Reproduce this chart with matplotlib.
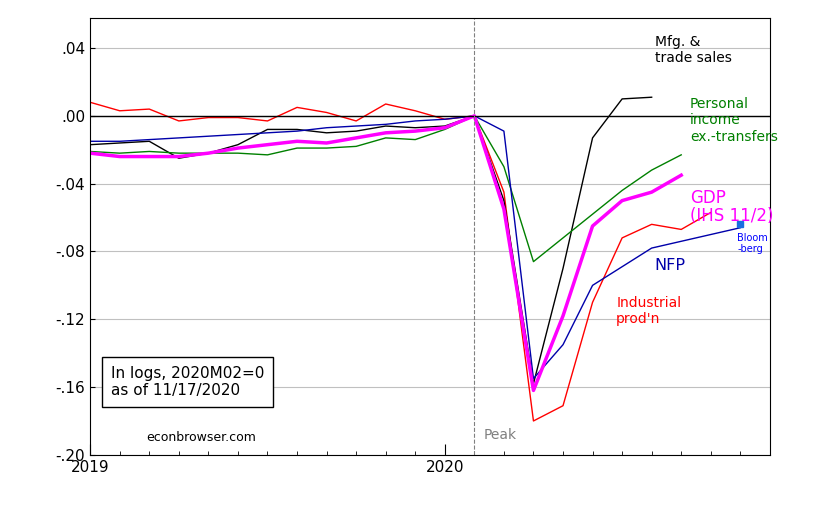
import numpy as np
import matplotlib; matplotlib.use("Agg")
import matplotlib.pyplot as plt

# monthly index: 0 = 2019M01, 13 = 2020M02
ip = [0.008, 0.003, 0.004, -0.003, -0.001, -0.001, -0.003, 0.005, 0.002, -0.003, 0.007, 0.003, -0.002,
      0.0, -0.045, -0.180, -0.171, -0.110, -0.072, -0.064, -0.067, -0.057]
sales = [-0.017, -0.016, -0.015, -0.025, -0.022, -0.017, -0.008, -0.008, -0.010, -0.009, -0.006, -0.007, -0.006,
         0.0, -0.050, -0.158, -0.090, -0.013, 0.010, 0.011]
pinc = [-0.021, -0.022, -0.021, -0.022, -0.022, -0.022, -0.023, -0.019, -0.019, -0.018, -0.013, -0.014, -0.008,
        0.0, -0.030, -0.086, -0.072, -0.058, -0.044, -0.032, -0.023]
nfp = [-0.015, -0.015, -0.014, -0.013, -0.012, -0.011, -0.010, -0.009, -0.007, -0.006, -0.005, -0.003, -0.002,
       0.0, -0.009, -0.155, -0.135, -0.100, -0.089, -0.078, -0.074, -0.070, -0.066]
bloomberg_x, bloomberg_y = 22, -0.064
gdp = [-0.022, -0.024, -0.024, -0.024, -0.022, -0.019, -0.017, -0.015, -0.016, -0.013, -0.010, -0.009, -0.007,
       0.0, -0.055, -0.162, -0.118, -0.065, -0.050, -0.045, -0.035]

fig = plt.figure(figsize=(8.35, 5.32), dpi=100)
ax = fig.add_axes([0.108, 0.145, 0.814, 0.822])
ax.plot(range(len(ip)), ip, color="red", lw=1)
ax.plot(range(len(sales)), sales, color="black", lw=1)
ax.plot(range(len(pinc)), pinc, color="green", lw=1)
ax.plot(range(len(nfp)), nfp, color="#0000aa", lw=1)
ax.plot(range(len(gdp)), gdp, color="magenta", lw=2.5)
ax.plot([bloomberg_x], [bloomberg_y], "s", color="#1a6fe0", ms=5)
ax.axhline(0, color="black", lw=1)
ax.axvline(13, color="gray", lw=0.8, ls="--")

ax.set_xlim(0, 23)
ax.set_ylim(-0.2, 0.058)
ax.set_yticks([0.04, 0, -0.04, -0.08, -0.12, -0.16, -0.20])
ax.set_yticklabels([".04", ".00", "-.04", "-.08", "-.12", "-.16", "-.20"], fontsize=11)
ax.set_xticks([0, 12])
ax.set_xticklabels(["2019", "2020"], fontsize=11)
ax.set_xticks(range(24), minor=True)
ax.tick_params(axis="x", which="major", length=8, direction="in")
ax.tick_params(axis="x", which="minor", length=3, direction="in")
ax.tick_params(axis="y", direction="in")
ax.grid(axis="y", color="#c0c0c0", lw=0.8)

ax.text(19.1, 0.048, "Mfg. &\ntrade sales", fontsize=10, va="top")
ax.text(20.3, 0.011, "Personal\nincome\nex.-transfers", fontsize=10, color="green", va="top")
ax.text(20.3, -0.043, "GDP\n(IHS 11/2)", fontsize=12, color="magenta", va="top", linespacing=1.0)
ax.text(21.9, -0.069, "Bloom\n-berg", fontsize=7, color="blue", va="top")
ax.text(19.1, -0.084, "NFP", fontsize=11.5, color="#0000aa", va="top")
ax.text(17.8, -0.106, "Industrial\nprod'n", fontsize=10, color="red", va="top")
ax.text(13.3, -0.188, "Peak", fontsize=10, color="gray", va="center")
ax.text(0.7, -0.157, "In logs, 2020M02=0\nas of 11/17/2020", fontsize=11, va="center",
        bbox=dict(facecolor="white", edgecolor="black", pad=6))
ax.text(1.9, -0.19, "econbrowser.com", fontsize=9, va="center")

fig.savefig("out.png")
